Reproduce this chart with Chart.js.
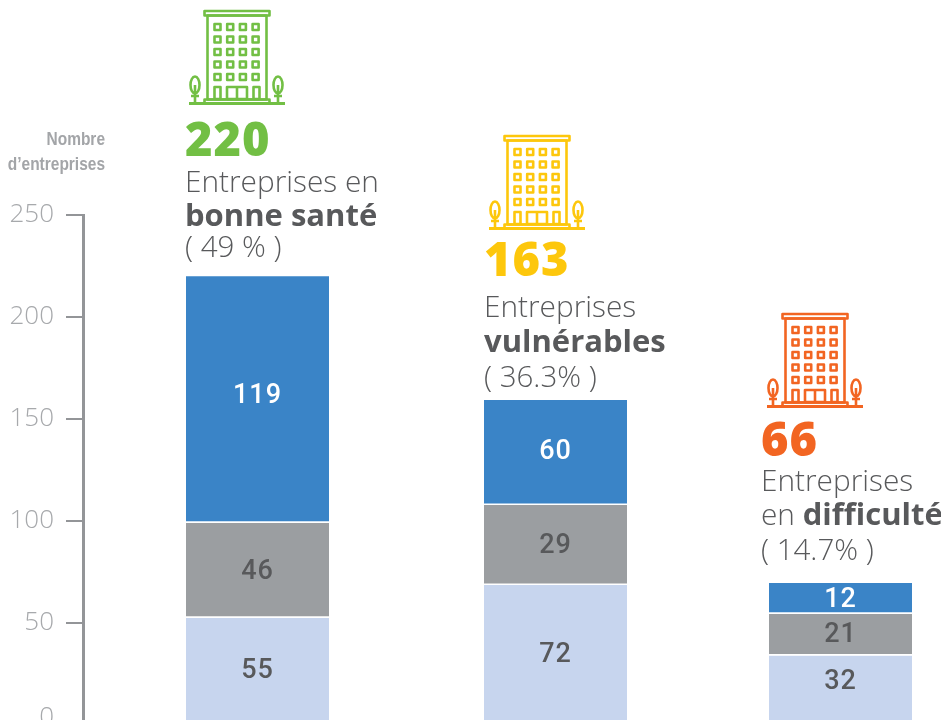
<!DOCTYPE html>
<html lang="fr">
<head>
<meta charset="utf-8">
<title>Entreprises</title>
<script src="https://cdn.jsdelivr.net/npm/chart.js@4"></script>
<style>
  html, body { margin: 0; padding: 0; width: 941px; height: 720px; overflow: hidden; background: #fff; }
  canvas { display: block; }
</style>
</head>
<body>
<canvas id="chart" width="941" height="760"></canvas>
<script>
const categories = ["Entreprises en bonne santé", "Entreprises vulnérables", "Entreprises en difficulté"];
const yTicks = [0, 50, 100, 150, 200, 250];

// heights as drawn against the axis (the source bars are not quite to scale)
const lowValues = [52.5, 68.6, 34];
const midValues = [46.5, 39.2, 20.4];
const topValues = [121, 51.5, 15.2];

// numbers printed on the bars
const lowLabels = ["55", "72", "32"];
const midLabels = ["46", "29", "21"];
const topLabels = ["119", "60", "12"];

const totals = ["220", "163", "66"];
const shares = ["( 49 % )", "( 36.3% )", "( 14.7% )"];

const GREEN = "#72bf44", YELLOW = "#fdc70c", ORANGE = "#f26522";
const TEXT = "#58595b";
const LIGHT = "Open Sans";

// columns are not evenly spaced in the original
const barShift = [31.5, 43.5, 42.5];
// small vertical nudges of the printed numbers, per stack level then column
const labelLift = [[0, -1, 8], [-2, -1, 0], [3, 0, -2]];

const callouts = [
  { color: GREEN, iconX: 189, iconY: 9, x: 185, base: [156, 192, 226, 257],
    lines: [[["Entreprises en", false]], [["bonne santé", true]]] },
  { color: YELLOW, iconX: 489, iconY: 134, x: 484, base: [276, 317, 352, 387],
    lines: [[["Entreprises", false]], [["vulnérables", true]]] },
  { color: ORANGE, iconX: 767, iconY: 312, x: 761, base: [456, 491, 525, 560],
    lines: [[["Entreprises", false]], [["en ", false], ["difficulté", true]]] }
];

function drawBuilding(ctx, ox, oy, color){
  ctx.save();
  ctx.translate(ox, oy);
  ctx.strokeStyle = color;
  ctx.fillStyle = color;
  ctx.lineWidth = 2.6;
  ctx.lineJoin = "round";
  // roof and body
  ctx.strokeRect(15.5, 2, 65, 4.5);
  ctx.strokeRect(18.5, 6.5, 59, 84);
  // windows
  for(let r = 0; r < 5; r++){
    for(let c = 0; c < 4; c++){
      ctx.strokeRect(25.5 + c * 12.7, 15 + r * 12.5, 6, 6);
    }
  }
  // ground floor doors
  ctx.strokeRect(25.5, 78, 6, 12);
  ctx.strokeRect(64.5, 78, 6, 12);
  ctx.strokeRect(38, 78, 20, 12);
  ctx.beginPath();
  ctx.moveTo(48, 78); ctx.lineTo(48, 90);
  ctx.stroke();
  // steps
  ctx.strokeRect(15.5, 90.5, 65, 4);
  ctx.fillRect(0, 93, 96, 3);
  // trees
  [6, 89].forEach(tx => {
    ctx.beginPath();
    ctx.ellipse(tx, 76, 4.5, 8.5, 0, 0, Math.PI * 2);
    ctx.moveTo(tx, 76);
    ctx.lineTo(tx, 94);
    ctx.moveTo(tx - 4, 87);
    ctx.lineTo(tx + 4, 87);
    ctx.stroke();
  });
  ctx.restore();
}

const shiftBars = {
  id: "shiftBars",
  afterDatasetsUpdate(chart){
    chart.data.datasets.forEach((_, d) => {
      chart.getDatasetMeta(d).data.forEach((bar, i) => { bar.x += barShift[i]; });
    });
  }
};

const barText = {
  id: "barText",
  afterDatasetsDraw(chart){
    const ctx = chart.ctx;
    const labelSets = [lowLabels, midLabels, topLabels];
    const colors = [TEXT, TEXT, "#fff"];
    ctx.save();
    ctx.font = "500 27px Roboto";
    ctx.letterSpacing = "1px";
    ctx.textAlign = "center";
    ctx.textBaseline = "middle";
    labelSets.forEach((labels, d) => {
      chart.getDatasetMeta(d).data.forEach((bar, i) => {
        ctx.fillStyle = colors[d];
        ctx.fillText(labels[i], bar.x, (bar.y + bar.base) / 2 - labelLift[d][i]);
      });
    });
    ctx.restore();
  }
};

const annotations = {
  id: "annotations",
  afterDraw(chart){
    const ctx = chart.ctx;
    ctx.save();
    ctx.textBaseline = "alphabetic";

    // axis title, squeezed to look condensed
    ctx.save();
    ctx.textAlign = "right";
    ctx.fillStyle = "#a3a5a8";
    ctx.font = "bold 18px 'Liberation Sans'";
    ctx.translate(105, 0);
    ctx.scale(0.86, 1);
    ctx.fillText("Nombre", 0, 145);
    ctx.fillText("d’entreprises", 0, 170);
    ctx.restore();

    ctx.textAlign = "left";
    callouts.forEach((c, i) => {
      drawBuilding(ctx, c.iconX, c.iconY, c.color);
      ctx.fillStyle = c.color;
      ctx.font = "800 47px 'Open Sans'";
      ctx.letterSpacing = "1px";
      ctx.fillText(totals[i], c.x, c.base[0]);
      ctx.letterSpacing = "0px";
      ctx.fillStyle = TEXT;
      c.lines.forEach((runs, l) => {
        let x = c.x;
        runs.forEach(([txt, bold]) => {
          ctx.font = bold ? "700 31px 'Open Sans'" : `300 29.8px '${LIGHT}'`;
          ctx.fillText(txt, x, c.base[l + 1]);
          x += ctx.measureText(txt).width;
        });
      });
      ctx.font = `300 29.5px '${LIGHT}'`;
      ctx.fillText(shares[i], c.x, c.base[3]);
    });
    ctx.restore();
  }
};

function makeDataset(label, data, color){
  return {
    label, data,
    backgroundColor: color,
    borderColor: "#fff",
    borderWidth: { top: 0, right: 0, left: 0, bottom: 2 },
    borderSkipped: false,
    barThickness: 143,
    stack: "all"
  };
}

new Chart(document.getElementById("chart"), {
  type: "bar",
  data: {
    labels: categories,
    datasets: [
      makeDataset("Bas", lowValues, "#c7d5ee"),
      makeDataset("Milieu", midValues, "#9b9ea1"),
      makeDataset("Haut", topValues, "#3a84c7")
    ]
  },
  plugins: [shiftBars, barText, annotations],
  options: {
    responsive: false,
    animation: false,
    layout: { padding: { top: 215, bottom: 35 } },
    plugins: { legend: { display: false }, tooltip: { enabled: false } },
    scales: {
      x: { stacked: true, display: false },
      y: {
        stacked: true,
        min: 0,
        max: 250,
        afterFit(scale){ scale.width = 83; },
        afterBuildTicks(scale){ scale.ticks = yTicks.map(value => ({ value })); },
        border: { color: "#939598", width: 3 },
        grid: { drawOnChartArea: false, color: "#939598", lineWidth: 2, tickLength: 17 },
        ticks: {
          color: "#a7a9ac",
          padding: 12,
          // the 0 sits a little above its tick in the original
          callback: v => v === 0 ? ["0", ""] : String(v),
          font: c => ({ family: LIGHT, weight: "300", size: 26, lineHeight: c.tick && c.tick.value === 0 ? 0.55 : 1.2 })
        }
      }
    }
  }
});
</script>
</body>
</html>
